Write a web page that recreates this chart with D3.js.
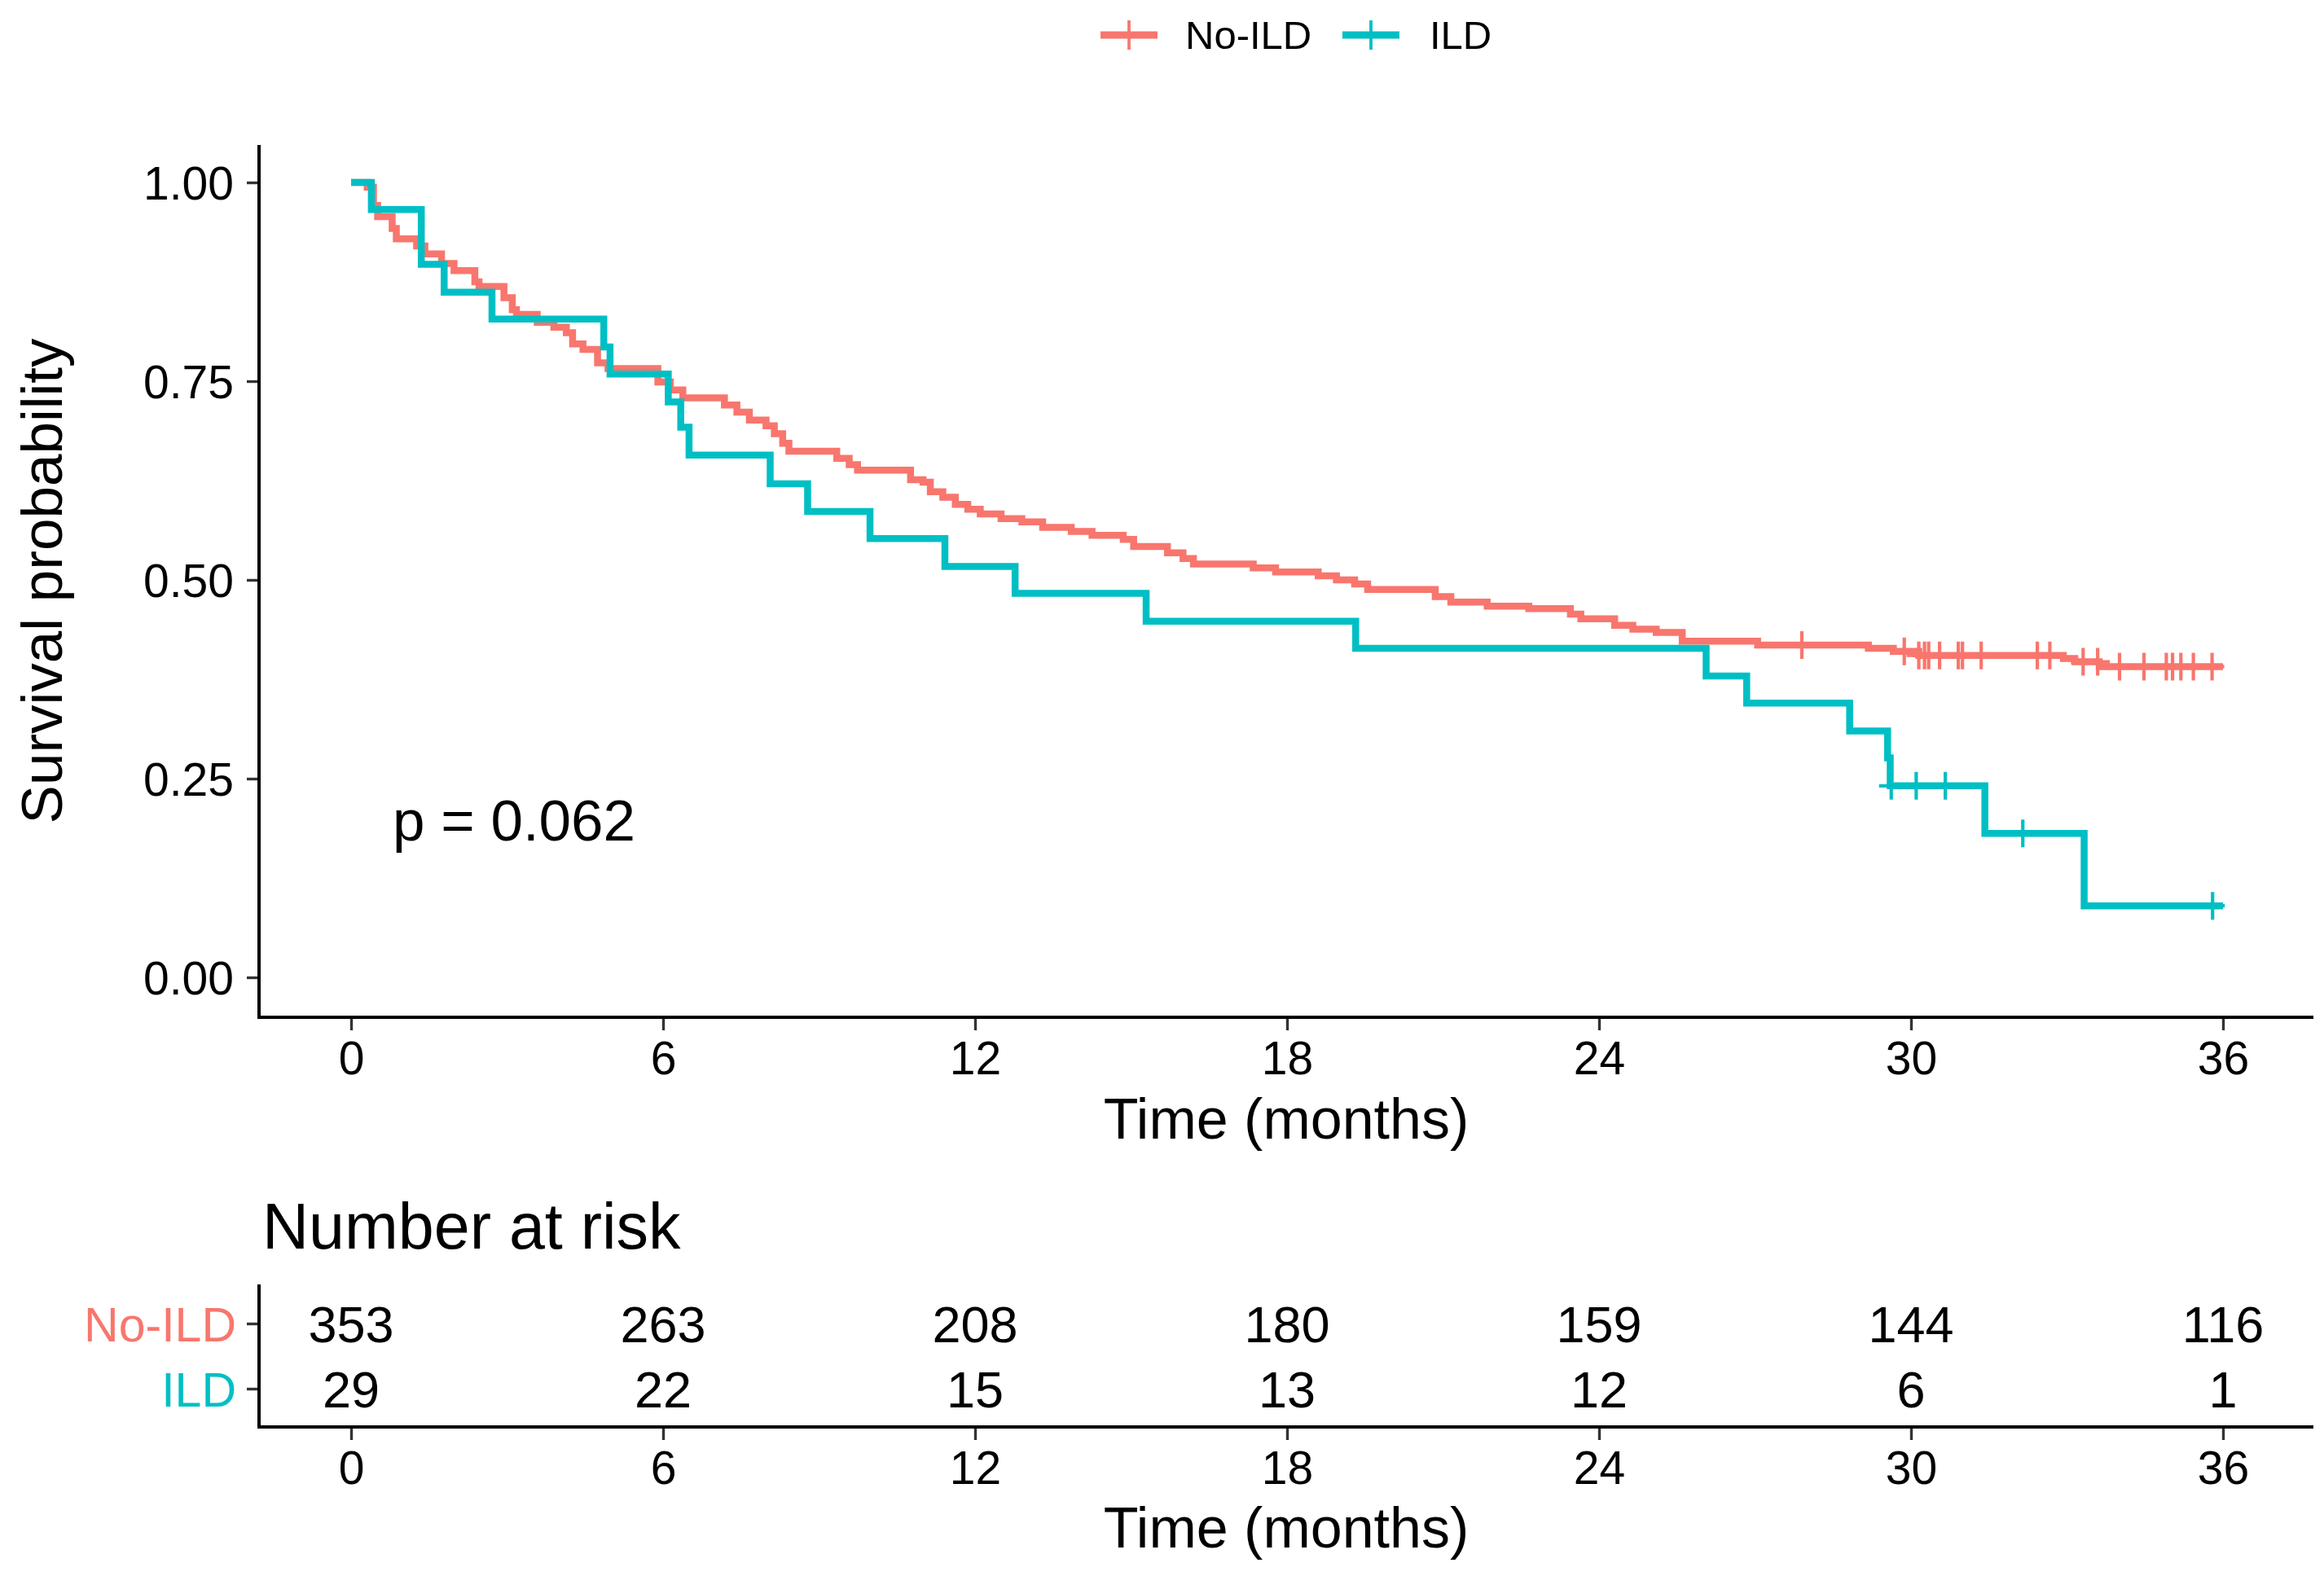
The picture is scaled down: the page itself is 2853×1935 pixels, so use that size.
<!DOCTYPE html>
<html>
<head>
<meta charset="utf-8">
<script src="https://cdn.jsdelivr.net/npm/d3@7"></script>
<style>
  body { margin: 0; background: #fff; }
  svg { display: block; font-family: "Liberation Sans", Arial, sans-serif; }
</style>
</head>
<body>
<svg id="chart" width="2853" height="1935"></svg>
<script>
// Kaplan-Meier steps (time in months, survival after the step)
const noIldTime = [0, 0.31, 0.43, 0.51, 0.79, 0.87, 1.26, 1.42, 1.74, 1.98, 2.38, 2.46, 2.94, 3.10, 3.18,
    3.58, 3.90, 4.14, 4.26, 4.46, 4.74, 4.94, 5.90, 6.14, 6.38, 7.18, 7.42, 7.66, 7.98, 8.14, 8.30, 8.42,
    9.34, 9.58, 9.74, 10.76, 11.00, 11.14, 11.38, 11.62, 11.86, 12.10, 12.50, 12.90, 13.30, 13.85, 14.25,
    14.85, 15.05, 15.70, 16.00, 16.20, 17.35, 17.78, 18.60, 18.95, 19.30, 19.55, 20.85, 21.15, 21.85,
    22.65, 23.45, 23.65, 24.30, 24.65, 25.10, 25.60, 27.05, 29.18, 29.66, 30.15, 32.93, 33.15, 33.62];
const noIldSurv = [1, 0.994, 0.971, 0.957, 0.942, 0.929, 0.920, 0.910, 0.898, 0.889, 0.875, 0.869, 0.855, 0.840, 0.834,
    0.824, 0.818, 0.811, 0.797, 0.790, 0.773, 0.766, 0.749, 0.739, 0.729, 0.720, 0.711, 0.701, 0.694, 0.684, 0.672, 0.662,
    0.653, 0.645, 0.638, 0.626, 0.623, 0.611, 0.604, 0.595, 0.589, 0.583, 0.577, 0.573, 0.566, 0.561, 0.556,
    0.551, 0.542, 0.534, 0.527, 0.520, 0.515, 0.510, 0.505, 0.500, 0.495, 0.488, 0.479, 0.472, 0.467,
    0.464, 0.457, 0.451, 0.443, 0.438, 0.434, 0.423, 0.418, 0.414, 0.410, 0.405, 0.401, 0.397, 0.391];
const noIldCensor = [27.90, 29.87, 30.15, 30.26, 30.34, 30.55, 30.91, 30.99, 31.35, 32.43, 32.67, 33.31,
    33.59, 34.01, 34.48, 34.91, 35.03, 35.19, 35.43, 35.79];

const ildTime = [0, 0.39, 1.35, 1.79, 2.71, 4.86, 4.98, 6.10, 6.34, 6.50, 8.06, 8.78, 9.98, 11.42, 12.77,
    15.29, 19.32, 26.06, 26.84, 28.82, 29.55, 29.60, 31.42, 33.33];
const ildSurv = [1, 0.966, 0.897, 0.862, 0.828, 0.793, 0.759, 0.724, 0.692, 0.657, 0.621, 0.586, 0.552, 0.517, 0.483,
    0.448, 0.414, 0.379, 0.345, 0.310, 0.276, 0.241, 0.181, 0.090];
const ildCensor = [29.62, 30.10, 30.66, 32.15, 35.80];

const groups = ["No-ILD", "ILD"];
const colors = ["#F8766D", "#00BFC4"];
const yTicks = [0, 0.25, 0.5, 0.75, 1];
const riskTimes = [0, 6, 12, 18, 24, 30, 36];
const riskNoIld = [353, 263, 208, 180, 159, 144, 116];
const riskIld = [29, 22, 15, 13, 12, 6, 1];
const pLabel = "p = 0.062";
const endTime = 36;

const svg = d3.select("#chart");
svg.append("rect").attr("width", 2853).attr("height", 1935).attr("fill", "#fff");

const panel = { left: 318, right: 2840, top: 178, bottom: 1249 };
const x = d3.scaleLinear().domain([0, 36]).range([431, 2729]);
const y = d3.scaleLinear().domain([0, 1]).range([1200, 224]);

// axes (ggplot classic look: line on the panel edge, short ticks)
function styleAxis(g) {
    g.select(".domain").remove();
    g.selectAll(".tick line").attr("stroke", "#333").attr("stroke-width", 3.4);
    g.selectAll(".tick text").attr("fill", "#000").attr("font-family", "Liberation Sans, Arial, sans-serif");
}

const yAxis = svg.append("g")
    .attr("transform", `translate(${panel.left},0)`)
    .call(d3.axisLeft(y).tickValues(yTicks).tickFormat(d3.format(".2f")).tickSize(15).tickPadding(16));
styleAxis(yAxis);
yAxis.selectAll(".tick text").attr("font-size", 57).attr("dy", "0.36em");

const xAxis = svg.append("g")
    .attr("transform", `translate(0,${panel.bottom})`)
    .call(d3.axisBottom(x).tickValues(riskTimes).tickSize(16).tickPadding(14));
styleAxis(xAxis);
xAxis.selectAll(".tick text").attr("font-size", 57).attr("dy", "0.71em");

svg.append("path")
    .attr("d", `M${panel.left},${panel.top}V${panel.bottom}H${panel.right}`)
    .attr("fill", "none").attr("stroke", "#000").attr("stroke-width", 4);

svg.append("text")
    .attr("transform", `translate(76,${(panel.top + panel.bottom) / 2}) rotate(-90)`)
    .attr("text-anchor", "middle").attr("font-size", 71)
    .text("Survival probability");

svg.append("text")
    .attr("x", (panel.left + panel.right) / 2).attr("y", 1398)
    .attr("text-anchor", "middle").attr("font-size", 70)
    .text("Time (months)");

// curves
const line = d3.line().x(d => x(d[0])).y(d => y(d[1])).curve(d3.curveStepAfter);

function stepPoints(times, surv) {
    const pts = times.map((t, i) => [t, surv[i]]);
    pts.push([endTime, surv[surv.length - 1]]);
    return pts;
}

function survAt(times, surv, t) {
    const i = d3.bisectRight(times, t) - 1;
    return surv[Math.max(0, i)];
}

const series = [
    { name: groups[0], color: colors[0], time: noIldTime, surv: noIldSurv, censor: noIldCensor },
    { name: groups[1], color: colors[1], time: ildTime, surv: ildSurv, censor: ildCensor }
];

const curves = svg.append("g");
series.forEach(s => {
    curves.append("path")
        .datum(stepPoints(s.time, s.surv))
        .attr("d", line)
        .attr("fill", "none")
        .attr("stroke", s.color)
        .attr("stroke-width", 8.5)
        .attr("stroke-linejoin", "miter");

    curves.selectAll(null)
        .data(s.censor)
        .join("path")
        .attr("transform", t => `translate(${x(t)},${y(survAt(s.time, s.surv, t))})`)
        .attr("d", "M-15,0H15M0,-17V17")
        .attr("stroke", s.color)
        .attr("stroke-width", 4.2);
});

svg.append("text")
    .attr("x", 482).attr("y", 1032)
    .attr("font-size", 71)
    .text(pLabel);

// legend
const legendPos = [{ key: 1351, text: 1455 }, { key: 1648, text: 1755 }];
const legend = svg.append("g");
series.forEach((s, i) => {
    const p = legendPos[i];
    legend.append("line")
        .attr("x1", p.key).attr("x2", p.key + 70).attr("y1", 43).attr("y2", 43)
        .attr("stroke", s.color).attr("stroke-width", 9);
    legend.append("line")
        .attr("x1", p.key + 35).attr("x2", p.key + 35).attr("y1", 25).attr("y2", 61)
        .attr("stroke", s.color).attr("stroke-width", 3.8);
    legend.append("text")
        .attr("x", p.text).attr("y", 60)
        .attr("font-size", 49)
        .text(s.name);
});

// risk table
const table = { left: 318, right: 2840, top: 1577, bottom: 1752 };
const rowY = d3.scalePoint().domain(groups).range([1625, 1705]);

svg.append("text")
    .attr("x", 322).attr("y", 1533)
    .attr("font-size", 79)
    .text("Number at risk");

const tyAxis = svg.append("g")
    .attr("transform", `translate(${table.left},0)`)
    .call(d3.axisLeft(rowY).tickSize(15).tickPadding(13));
styleAxis(tyAxis);
tyAxis.selectAll(".tick text")
    .attr("font-size", 59).attr("dy", "0.36em")
    .attr("fill", (d, i) => colors[i]);

const txAxis = svg.append("g")
    .attr("transform", `translate(0,${table.bottom})`)
    .call(d3.axisBottom(x).tickValues(riskTimes).tickSize(16).tickPadding(14));
styleAxis(txAxis);
txAxis.selectAll(".tick text").attr("font-size", 57).attr("dy", "0.71em");

svg.append("path")
    .attr("d", `M${table.left},${table.top}V${table.bottom}H${table.right}`)
    .attr("fill", "none").attr("stroke", "#000").attr("stroke-width", 4);

[riskNoIld, riskIld].forEach((vals, gi) => {
    svg.append("g").selectAll("text")
        .data(vals)
        .join("text")
        .attr("x", (d, i) => x(riskTimes[i]))
        .attr("y", rowY(groups[gi]))
        .attr("dy", "0.36em")
        .attr("text-anchor", "middle")
        .attr("font-size", 63)
        .text(d => d);
});

svg.append("text")
    .attr("x", (table.left + table.right) / 2).attr("y", 1900)
    .attr("text-anchor", "middle").attr("font-size", 70)
    .text("Time (months)");
</script>
</body>
</html>
